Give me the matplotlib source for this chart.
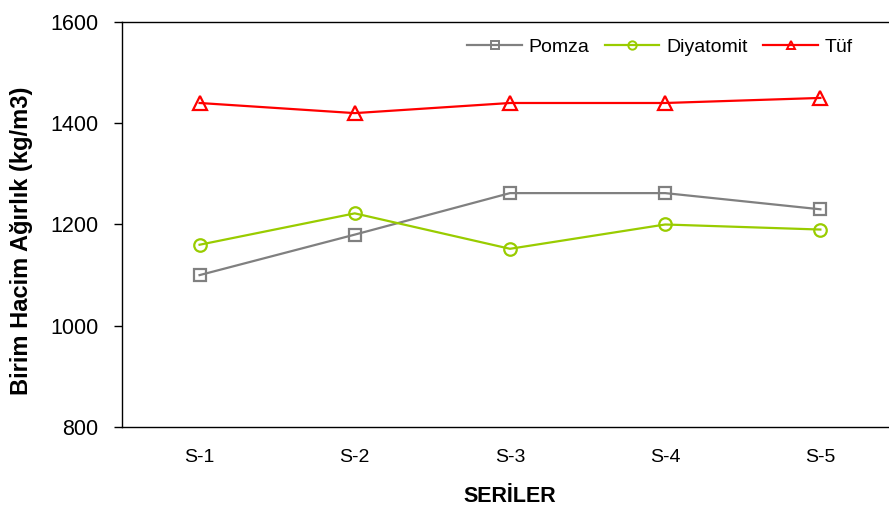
import matplotlib.pyplot as plt

plt.rcParams['font.family'] = ['Liberation Sans', 'DejaVu Sans']

# Veriler
seriler = ['S-1', 'S-2', 'S-3', 'S-4', 'S-5']
pomza = [1100, 1180, 1262, 1262, 1230]
diyatomit = [1160, 1222, 1152, 1200, 1190]
tuf = [1440, 1420, 1440, 1440, 1450]

fig = plt.figure(figsize=(8.89, 5.14), dpi=100)
ax = fig.add_axes([0.1372, 0.1693, 0.8729, 0.7879])

x = range(len(seriler))
ax.plot(x, pomza, color='#808080', lw=1.6, marker='s', ms=9, mfc='none', mew=1.6, label='Pomza')
ax.plot(x, diyatomit, color='#99cc00', lw=1.6, marker='o', ms=9, mfc='none', mew=1.6, label='Diyatomit')
ax.plot(x, tuf, color='#ff0000', lw=1.6, marker='^', ms=10, mfc='none', mew=1.6, label='Tüf')

ax.set_xlim(-0.5, 4.5)
ax.set_ylim(800, 1600)
ax.set_yticks([800, 1000, 1200, 1400, 1600])
ax.set_xticks(list(x))
ax.set_xticklabels(seriler)
ax.tick_params(axis='y', labelsize=15.5, direction='out', length=6, width=1, pad=11)
ax.tick_params(axis='x', labelsize=14, length=0, pad=16)

# Eksen başlıkları
fig.text(510 / 889, 1 - 497 / 514, 'SERİLER', fontsize=15.5, fontweight='bold',
         ha='center', va='center')
fig.text(22 / 889, 1 - 241 / 514, 'Birim Hacim Ağırlık (kg/m3)', fontsize=17,
         fontweight='bold', rotation=90, ha='center', va='center')

for s in ax.spines.values():
    s.set_linewidth(1)
    s.set_color('black')

leg = ax.legend(loc='center left', bbox_to_anchor=(0.445, 0.938), ncol=3, frameon=False,
                fontsize=14, handlelength=2.8, columnspacing=0.8, handletextpad=0.35,
                borderpad=0, borderaxespad=0)
for h in leg.legend_handles:
    h.set_markersize(6)
    h.set_markeredgewidth(1.4)

fig.savefig('out.png', dpi=100)
